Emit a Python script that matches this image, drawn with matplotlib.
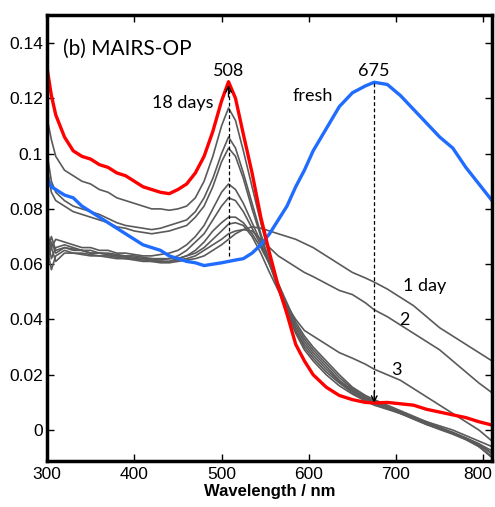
import matplotlib
matplotlib.use("Agg")
import matplotlib.pyplot as plt
import matplotlib.transforms as mtransforms

wavelength = [300, 305, 310, 320, 330, 340, 350, 360, 370, 380, 390, 400, 410, 420, 430, 440,
              450, 460, 470, 480, 490, 500, 508, 516, 525, 535, 545, 555, 565, 575, 585, 595,
              605, 620, 635, 650, 665, 675, 690, 705, 720, 735, 750, 765, 780, 795, 810]

fresh = [0.091, 0.088, 0.087, 0.085, 0.084, 0.081, 0.079, 0.077, 0.075, 0.073, 0.071, 0.069,
         0.067, 0.066, 0.065, 0.063, 0.062, 0.061, 0.0605, 0.0595, 0.060, 0.0605, 0.061, 0.0615,
         0.062, 0.064, 0.067, 0.071, 0.076, 0.081, 0.088, 0.094, 0.101, 0.109, 0.117, 0.122,
         0.1245, 0.1258, 0.125, 0.121, 0.116, 0.111, 0.106, 0.102, 0.095, 0.089, 0.083]

day1 = [0.062, 0.066, 0.061, 0.064, 0.064, 0.0635, 0.063, 0.063, 0.0625, 0.062, 0.062, 0.0615,
        0.061, 0.061, 0.0605, 0.0605, 0.061, 0.0615, 0.062, 0.063, 0.065, 0.067, 0.069, 0.071,
        0.0725, 0.0735, 0.073, 0.072, 0.071, 0.070, 0.069, 0.0675, 0.066, 0.063, 0.060, 0.057,
        0.055, 0.0535, 0.051, 0.048, 0.045, 0.041, 0.037, 0.034, 0.031, 0.028, 0.025]

day2 = [0.064, 0.070, 0.065, 0.066, 0.0655, 0.065, 0.064, 0.064, 0.0635, 0.063, 0.0625, 0.062,
        0.062, 0.0615, 0.061, 0.061, 0.0615, 0.062, 0.063, 0.065, 0.067, 0.069, 0.071, 0.072,
        0.0725, 0.072, 0.069, 0.066, 0.063, 0.061, 0.059, 0.057, 0.0555, 0.053, 0.0505, 0.049,
        0.046, 0.0435, 0.041, 0.038, 0.035, 0.032, 0.029, 0.025, 0.021, 0.017, 0.0135]

day3 = [0.070, 0.062, 0.066, 0.067, 0.066, 0.065, 0.065, 0.064, 0.064, 0.0635, 0.063, 0.063,
        0.0625, 0.062, 0.062, 0.062, 0.062, 0.063, 0.064, 0.066, 0.069, 0.072, 0.0745, 0.075,
        0.074, 0.070, 0.064, 0.057, 0.0505, 0.045, 0.040, 0.036, 0.034, 0.031, 0.028, 0.026,
        0.0238, 0.022, 0.020, 0.018, 0.015, 0.012, 0.009, 0.006, 0.003, 0.000, -0.004]

day_a = [0.066, 0.058, 0.063, 0.065, 0.064, 0.064, 0.0635, 0.063, 0.063, 0.0625, 0.062, 0.062,
         0.0615, 0.061, 0.061, 0.061, 0.062, 0.063, 0.065, 0.068, 0.072, 0.075, 0.077, 0.077,
         0.075, 0.071, 0.066, 0.060, 0.053, 0.046, 0.039, 0.034, 0.030, 0.025, 0.020, 0.0155,
         0.0125, 0.011, 0.009, 0.007, 0.005, 0.003, 0.001, -0.001, -0.003, -0.006, -0.010]

day_b = [0.060, 0.068, 0.064, 0.066, 0.065, 0.065, 0.064, 0.064, 0.0635, 0.063, 0.063, 0.0625,
         0.062, 0.062, 0.0615, 0.062, 0.063, 0.065, 0.068, 0.071, 0.076, 0.081, 0.084, 0.083,
         0.079, 0.073, 0.067, 0.060, 0.053, 0.045, 0.038, 0.033, 0.029, 0.024, 0.019, 0.015,
         0.012, 0.0105, 0.0085, 0.0065, 0.0045, 0.0025, 0.0005, -0.0012, -0.003, -0.0055, -0.0085]

day_c = [0.072, 0.066, 0.069, 0.068, 0.067, 0.066, 0.066, 0.065, 0.065, 0.064, 0.064, 0.0635,
         0.063, 0.063, 0.0635, 0.064, 0.065, 0.067, 0.070, 0.074, 0.080, 0.086, 0.089, 0.087,
         0.082, 0.075, 0.068, 0.060, 0.052, 0.044, 0.037, 0.032, 0.028, 0.023, 0.018, 0.0145,
         0.0115, 0.010, 0.008, 0.006, 0.004, 0.002, 0.0002, -0.0015, -0.0035, -0.006, -0.0095]

day_d = [0.095, 0.086, 0.083, 0.081, 0.079, 0.078, 0.077, 0.076, 0.075, 0.0735, 0.073, 0.072,
         0.0715, 0.071, 0.0715, 0.072, 0.073, 0.074, 0.077, 0.081, 0.088, 0.097, 0.102, 0.099,
         0.091, 0.080, 0.070, 0.060, 0.051, 0.043, 0.036, 0.031, 0.027, 0.022, 0.0175, 0.014,
         0.0115, 0.010, 0.008, 0.0065, 0.0045, 0.0025, 0.0008, -0.0008, -0.0028, -0.005, -0.0085]

day_e = [0.100, 0.090, 0.086, 0.083, 0.081, 0.080, 0.079, 0.078, 0.0765, 0.075, 0.074, 0.0735,
         0.073, 0.0725, 0.073, 0.074, 0.075, 0.076, 0.079, 0.084, 0.091, 0.100, 0.106, 0.102,
         0.093, 0.082, 0.071, 0.061, 0.051, 0.043, 0.036, 0.030, 0.026, 0.021, 0.017, 0.0135,
         0.011, 0.0095, 0.0078, 0.006, 0.004, 0.002, 0.0005, -0.001, -0.003, -0.005, -0.0075]

day_f = [0.113, 0.105, 0.099, 0.094, 0.092, 0.090, 0.089, 0.087, 0.086, 0.084, 0.083, 0.082,
         0.081, 0.080, 0.080, 0.0795, 0.080, 0.081, 0.084, 0.090, 0.099, 0.110, 0.1165, 0.112,
         0.101, 0.088, 0.075, 0.063, 0.051, 0.042, 0.035, 0.029, 0.025, 0.020, 0.016, 0.013,
         0.0105, 0.009, 0.0075, 0.006, 0.0045, 0.003, 0.0015, 0.000, -0.002, -0.004, -0.006]

day18 = [0.131, 0.121, 0.114, 0.106, 0.101, 0.099, 0.098, 0.096, 0.095, 0.093, 0.092, 0.090,
         0.088, 0.087, 0.086, 0.0855, 0.087, 0.089, 0.093, 0.099, 0.108, 0.119, 0.126, 0.120,
         0.107, 0.093, 0.077, 0.064, 0.052, 0.042, 0.031, 0.025, 0.020, 0.0155, 0.0125, 0.011,
         0.010, 0.0098, 0.010, 0.0095, 0.009, 0.0075, 0.0065, 0.0055, 0.0045, 0.003, 0.0018]

gray_series = [day1, day2, day3, day_a, day_b, day_c, day_d, day_e, day_f]

yticks = [0, 0.02, 0.04, 0.06, 0.08, 0.1, 0.12, 0.14]
ytick_labels = ["0", "0.02", "0.04", "0.06", "0.08", "0.1", "0.12", "0.14"]
xticks = [300, 400, 500, 600, 700, 800]

plt.rcParams['font.family'] = ['Liberation Sans', 'DejaVu Sans']
fig = plt.figure(figsize=(4.95, 5.07), dpi=100)
ax = fig.add_axes([0.095, 0.0907, 0.899, 0.879])

for s in gray_series:
    ax.plot(wavelength, s, color='#5a5a5a', lw=1.2)
ax.plot(wavelength, fresh, color='#1f6cff', lw=2.4)
ax.plot(wavelength, day18, color='#ff0000', lw=2.4)

# dashed marker lines
ax.plot([508, 508], [0.063, 0.1235], color='black', lw=0.9, ls=(0, (3, 2)))
ax.annotate('', xy=(508, 0.1248), xytext=(508, 0.1205),
            arrowprops=dict(arrowstyle='->', lw=1.0, color='black', shrinkA=0, shrinkB=0,
                            mutation_scale=10))
ax.plot([675, 675], [0.1255, 0.011], color='black', lw=0.9, ls=(0, (3, 2)))
ax.annotate('', xy=(675, 0.0098), xytext=(675, 0.014),
            arrowprops=dict(arrowstyle='->', lw=1.0, color='black', shrinkA=0, shrinkB=0,
                            mutation_scale=10))

tf = dict(family=['Lato', 'DejaVu Sans'], color='black')
ax.text(0.035, 0.925, '(b) MAIRS-OP', transform=ax.transAxes, fontsize=15, ha='left', va='center', **tf)
ax.text(508, 0.1298, '508', fontsize=13, ha='center', va='center', **tf)
ax.text(675, 0.1298, '675', fontsize=13, ha='center', va='center', **tf)
ax.text(455, 0.1183, '18 days', fontsize=13, ha='center', va='center', **tf)
ax.text(605, 0.1208, 'fresh', fontsize=13, ha='center', va='center', **tf)
ax.text(733, 0.052, '1 day', fontsize=13, ha='center', va='center', **tf)
ax.text(709, 0.0398, '2', fontsize=13, ha='center', va='center', **tf)
ax.text(701, 0.0217, '3', fontsize=13, ha='center', va='center', **tf)

ax.set_xlim(300, 810)
ax.set_ylim(-0.0112, 0.150)
ax.set_xticks(xticks)
ax.set_yticks(yticks)
ax.set_yticklabels(ytick_labels)
ax.tick_params(direction='in', length=5, width=1, top=True, right=True,
               labeltop=False, labelright=False, labelsize=12.5, pad=4)
ax.tick_params(axis='y', pad=3)
for sp in ax.spines.values():
    sp.set_linewidth(2.5)
ax.set_xlabel('Wavelength / nm', fontsize=12, fontweight='bold', labelpad=2)

# nudge the last x tick label so it stays inside the figure, as in the reference
last = ax.get_xticklabels()[-1]
last.set_transform(last.get_transform() + mtransforms.ScaledTranslation(-4 / 72, 0, fig.dpi_scale_trans))

fig.savefig('out.png', dpi=100)
